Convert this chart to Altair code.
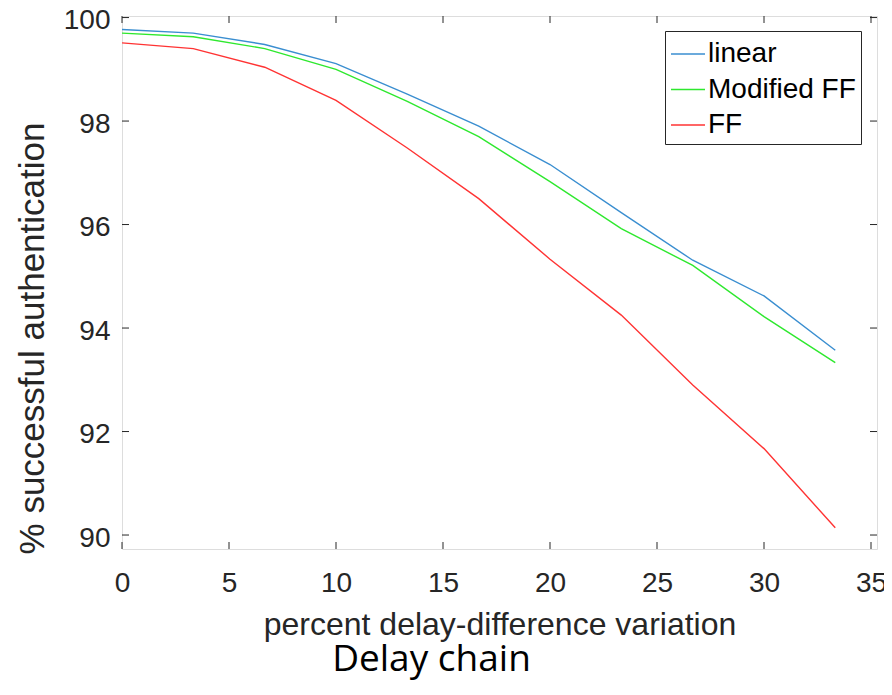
import altair as alt
import pandas as pd

# ---- data ----
x_vals = [0, 3.33, 6.67, 10, 13.33, 16.67, 20, 23.33, 26.67, 30, 33.33]
linear = [99.77, 99.70, 99.48, 99.11, 98.52, 97.90, 97.16, 96.23, 95.31, 94.62, 93.57]
modified_ff = [99.70, 99.63, 99.40, 99.00, 98.38, 97.70, 96.83, 95.92, 95.21, 94.22, 93.33]
ff = [99.51, 99.40, 99.04, 98.40, 97.48, 96.50, 95.33, 94.25, 92.90, 91.67, 90.14]
series_names = ["linear", "Modified FF", "FF"]
series_colors = ["#3a8ed0", "#2ee82e", "#ff3333"]
x_ticks = [0, 5, 10, 15, 20, 25, 30, 35]
y_ticks = [90, 92, 94, 96, 98, 100]
x_title = "percent delay-difference variation"
y_title = "% successful authentication"
caption = "Delay chain"

rows = []
for name, vals in zip(series_names, [linear, modified_ff, ff]):
    for xv, yv in zip(x_vals, vals):
        rows.append({"x": xv, "y": yv, "series": name})
df = pd.DataFrame(rows)
xt = pd.DataFrame({"t": x_ticks})
yt = pd.DataFrame({"t": y_ticks})

W, H = 755, 533
TICK = 7
AX = "#262626"
FONT = "Liberation Sans"

xscale = alt.Scale(domain=[0, 35.28], nice=False, zero=False)
yscale = alt.Scale(domain=[89.73, 100.03], nice=False, zero=False)

lines = alt.Chart(df).mark_line(strokeWidth=1.4, clip=True).encode(
    x=alt.X("x:Q", scale=xscale,
            axis=alt.Axis(values=x_ticks, title=x_title, ticks=False, domain=False,
                          grid=False, labelFontSize=28, labelFont=FONT, labelColor=AX,
                          labelPadding=20, labelFlush=False, labelOverlap=False,
                          titleFont=FONT, titleFontSize=32, titleFontWeight="normal",
                          titleColor=AX, titleY=85, titleBaseline="alphabetic")),
    y=alt.Y("y:Q", scale=yscale,
            axis=alt.Axis(values=y_ticks, title=y_title, ticks=False, domain=False,
                          grid=False, labelFontSize=28, labelFont=FONT, labelColor=AX,
                          labelPadding=12, labelOffset=3, labelFlush=False,
                          labelOverlap=False,
                          titleFont=FONT, titleFontSize=35, titleFontWeight="normal",
                          titleColor=AX, titleAngle=270, titleX=-79, titleY=322,
                          titleAlign="center", titleBaseline="alphabetic")),
    color=alt.Color("series:N",
                    scale=alt.Scale(domain=series_names, range=series_colors),
                    sort=series_names,
                    legend=alt.Legend(title=None, orient="none", legendX=543, legendY=15,
                                      symbolType="stroke", symbolSize=1156,
                                      symbolStrokeWidth=1.4, labelFontSize=28,
                                      labelFont=FONT, labelColor="black",
                                      strokeColor=AX, fillColor="white", padding=5,
                                      rowPadding=3.5, labelOffset=2, cornerRadius=0)),
)

tick_style = dict(color=AX, strokeWidth=1)
bottom_ticks = alt.Chart(xt).mark_rule(**tick_style).encode(
    x=alt.X("t:Q", scale=xscale), y=alt.value(H), y2=alt.value(H - TICK))
top_ticks = alt.Chart(xt).mark_rule(**tick_style).encode(
    x=alt.X("t:Q", scale=xscale), y=alt.value(0), y2=alt.value(TICK))
left_ticks = alt.Chart(yt).mark_rule(**tick_style).encode(
    y=alt.Y("t:Q", scale=yscale), x=alt.value(0), x2=alt.value(TICK))
right_ticks = alt.Chart(yt).mark_rule(**tick_style).encode(
    y=alt.Y("t:Q", scale=yscale), x=alt.value(W), x2=alt.value(W - TICK))

chart = alt.layer(lines, bottom_ticks, top_ticks, left_ticks, right_ticks).properties(
    width=W, height=H,
    autosize=alt.AutoSizeParams(type="none"),
    padding={"left": 114, "top": 8, "right": 7, "bottom": 138},
    title=alt.TitleParams(text=caption, orient="bottom", anchor="middle", frame="group",
                          font="Open Sans", fontSize=37, fontWeight="normal", color="black",
                          dx=-68, offset=31, baseline="alphabetic"),
).configure_view(stroke=AX, strokeWidth=1).configure(background="white")

chart.save("out.html", embed_options={"renderer": "svg", "actions": False})
